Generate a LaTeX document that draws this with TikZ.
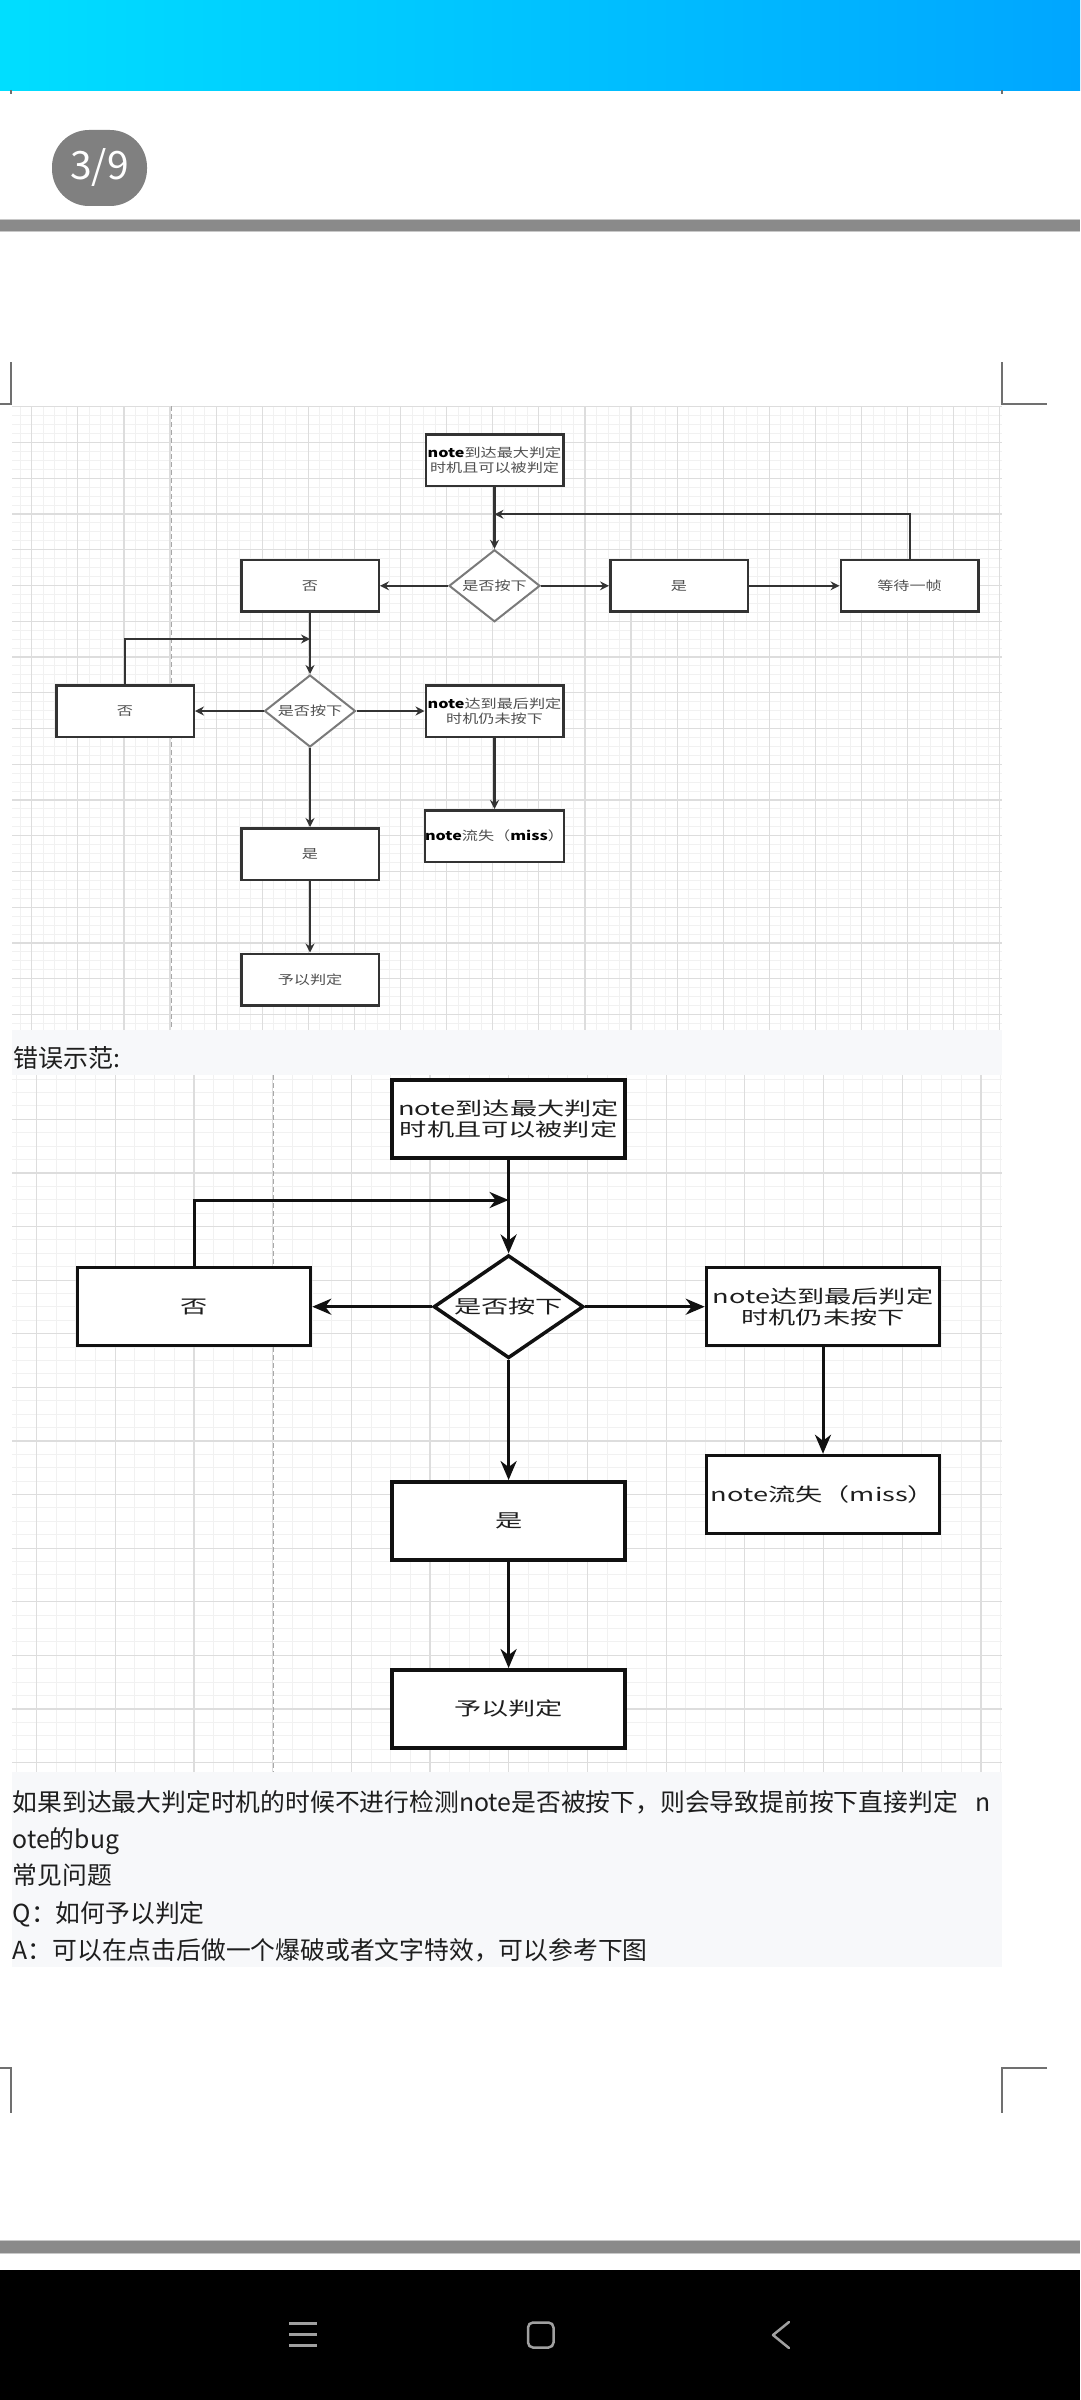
\documentclass[tikz,border=0pt]{standalone}
\usepackage{fontspec}
\setmainfont{Noto Sans CJK SC}
\newfontfamily\dfa[FakeStretch=1.29]{Noto Sans CJK SC}
\newfontfamily\dfb[FakeStretch=1.47]{Noto Sans CJK SC}
\usetikzlibrary{shapes.geometric,arrows.meta}
\definecolor{barL}{RGB}{0,222,255}
\definecolor{barR}{RGB}{0,166,255}
\definecolor{cdark}{HTML}{333333}
\definecolor{diagray}{HTML}{7A7A7A}
\definecolor{txtgray}{HTML}{505050}
\definecolor{gmin}{HTML}{F1F1F1}
\definecolor{gmaj}{HTML}{DDDDDD}
\definecolor{dashc}{HTML}{A8A8A8}
\definecolor{bandc}{HTML}{F7F8FA}
\definecolor{txtdark}{HTML}{1E1E1E}
\definecolor{barg}{HTML}{8A8A8A}
\definecolor{barl}{HTML}{C8C8C8}
\definecolor{markc}{HTML}{707070}
\definecolor{navc}{HTML}{A0A0A0}
\definecolor{badge}{HTML}{808080}
\definecolor{lineB}{HTML}{111111}
\tikzset{
  gminline/.style={draw=gmin, line width=0.9pt},
  gmajline/.style={draw=gmaj, line width=1.2pt},
  dashline/.style={draw=dashc, line width=1.3pt, dash pattern=on 5pt off 3pt},
  boxA/.style={rectangle, draw=cdark, line width=2.5pt, fill=white, minimum width=137.5pt, minimum height=51.5pt, inner sep=0pt, align=center, text=txtgray, font=\dfa\fontsize{12.5pt}{15pt}\selectfont},
  diaA/.style={diamond, draw=diagray, line width=2pt, fill=white, minimum width=91pt, minimum height=72pt, inner sep=0pt, text=txtgray, font=\dfa\fontsize{12.5pt}{15pt}\selectfont},
  arrA/.style={draw=cdark, line width=2.5pt, -{Stealth[length=9pt,width=9pt,inset=3pt]}},
  fbA/.style={draw=cdark, line width=2pt, -{Stealth[length=9pt,width=9pt,inset=3pt]}},
  boxB/.style={rectangle, draw=lineB, line width=3.5pt, fill=white, minimum width=233pt, minimum height=78pt, inner sep=0pt, align=center, text=txtdark, font=\dfb\fontsize{18.5pt}{20.5pt}\selectfont},
  diaB/.style={diamond, draw=lineB, line width=3.5pt, fill=white, minimum width=150pt, minimum height=103pt, inner sep=0pt, text=txtdark, font=\dfb\fontsize{18.5pt}{20.5pt}\selectfont},
  arrB/.style={draw=lineB, line width=3pt, -{Stealth[length=19pt,width=16pt,inset=6pt]}},
  para/.style={anchor=base west, inner sep=0pt, text=txtdark, font=\fontsize{24.8pt}{30pt}\selectfont},
  markline/.style={draw=markc, line width=1.5pt},
  navline/.style={draw=navc, line width=3pt},
}
\newcommand{\nb}[1]{{\bfseries\color{black}#1}}
\begin{document}
\begin{tikzpicture}[x=1pt,y=-1pt]
% page
\fill[white] (0,0) rectangle (1080,2400);
\useasboundingbox (0,0) rectangle (1080,2400);
% top blue bar
\shade[left color=barL, right color=barR] (0,0) rectangle (1080,91);
% badge
\node[fill=badge, rounded corners=37pt, minimum width=95pt, minimum height=76pt, inner sep=0pt, text=white, font=\fontsize{39pt}{40pt}\selectfont] (pg) at (99.5,168) {3/9};
% gray bars
\fill[barg] (0,219.5) rectangle (1080,232);
\draw[barl, line width=1pt] (0,219.5) -- (1080,219.5);
\draw[barl, line width=1pt] (0,232) -- (1080,232);
\fill[barg] (0,2240) rectangle (1080,2253);
\draw[barl, line width=1pt] (0,2240) -- (1080,2240);
\draw[barl, line width=1pt] (0,2253) -- (1080,2253);
% page corner marks
\draw[markline] (11,90) -- (11,94);
\draw[markline] (1002,90) -- (1002,94);
\draw[markline] (11,362) -- (11,404) -- (0,404);
\draw[markline] (1002,362) -- (1002,404) -- (1047,404);
\draw[markline] (0,2068) -- (11,2068) -- (11,2113);
\draw[markline] (1047,2068) -- (1002,2068) -- (1002,2113);
% ===== diagram 1 grid =====
\begin{scope}
\clip (12,406) rectangle (1002,1030);
\foreach \i in {0,...,90} \draw[gminline] ({8.65+11.525*\i},406) -- ({8.65+11.525*\i},1030);
\foreach \i in {0,...,71} \draw[gminline] (12,{397.76+8.9375*\i}) -- (1002,{397.76+8.9375*\i});
\foreach \i in {-1,...,21} \draw[gmajline] ({31.7+46.1*\i},406) -- ({31.7+46.1*\i},1030);
\foreach \i in {0,...,17} \draw[gmajline] (12,{406.7+35.75*\i}) -- (1002,{406.7+35.75*\i});
\draw[dashline] (171.5,406) -- (171.5,1030);
\end{scope}
% text band 1
\fill[bandc] (12,1030) rectangle (1002,1075);
\node[para, font=\fontsize{25pt}{30pt}\selectfont] (t0) at (13,1067) {错误示范:};
% ===== diagram 2 grid =====
\begin{scope}
\clip (12,1075) rectangle (1002,1772);
\foreach \i in {0,...,55} \draw[gminline] ({-42.2+19.675*\i},1075) -- ({-42.2+19.675*\i},1772);
\foreach \i in {0,...,53} \draw[gminline] (12,{1065.7+13.4*\i}) -- (1002,{1065.7+13.4*\i});
\foreach \i in {-1,...,12} \draw[gmajline] ({36.5+78.7*\i},1075) -- ({36.5+78.7*\i},1772);
\foreach \i in {-1,...,12} \draw[gmajline] (12,{1119.3+53.6*\i}) -- (1002,{1119.3+53.6*\i});
\draw[dashline] (273.5,1075) -- (273.5,1772);
\end{scope}
% text band 2
\fill[bandc] (12,1772) rectangle (1002,1967);
\node[para] (t1) at (12.4,1811) {如果到达最大判定时机的时候不进行检测note是否被按下，则会导致提前按下直接判定\hspace{0.7em}n};
\node[para] (t2) at (12.4,1848.5) {ote的bug};
\node[para] (t3) at (12.4,1884.5) {常见问题};
\node[para] (t4) at (12.4,1922) {Q：如何予以判定};
\node[para] (t5) at (12.4,1959) {A：可以在点击后做一个爆破或者文字特效，可以参考下图};
% ===== diagram 1 nodes =====
\node[boxA] (a0) at (494.5,460) {\nb{note}到达最大判定\\时机且可以被判定};
\node[diaA] (ad1) at (494.5,585.8) {\makebox[0pt]{是否按下}};
\node[boxA] (ano1) at (310,585.8) {否};
\node[boxA] (ayes1) at (679,585.8) {是};
\node[boxA] (await) at (909.5,585.8) {等待一帧};
\node[diaA] (ad2) at (310,711) {\makebox[0pt]{是否按下}};
\node[boxA] (ano2) at (125,711) {否};
\node[boxA] (alast) at (494.5,711) {\nb{note}达到最后判定\\时机仍未按下};
\node[boxA] (amiss) at (494.5,836) {\nb{note}流失（\nb{miss}）};
\node[boxA] (ayes2) at (310,854) {是};
\node[boxA] (ajudge) at (310,979.5) {予以判定};
\coordinate (aj1) at (494.5,514.3);
\coordinate (aj2) at (310,639);
\draw[arrA] (a0) -- (ad1);
\draw[arrA] (ad1) -- (ano1);
\draw[arrA] (ad1) -- (ayes1);
\draw[arrA] (ayes1) -- (await);
\draw[fbA] (await.north) |- (aj1);
\draw[arrA] (ano1) -- (ad2);
\draw[arrA] (ad2) -- (ano2);
\draw[arrA] (ad2) -- (alast);
\draw[fbA] (ano2.north) |- (aj2);
\draw[arrA] (alast) -- (amiss);
\draw[arrA] (ad2) -- (ayes2);
\draw[arrA] (ayes2) -- (ajudge);
% ===== diagram 2 nodes =====
\node[boxB] (b0) at (508.6,1118.8) {note到达最大判定\\时机且可以被判定};
\node[diaB] (bd) at (508.6,1306.7) {\makebox[0pt]{是否按下}};
\node[boxB] (bno) at (194,1306.7) {否};
\node[boxB] (blast) at (823,1306.7) {note达到最后判定\\时机仍未按下};
\node[boxB] (bmiss) at (823,1494.5) {note流失（miss）};
\node[boxB] (byes) at (508.6,1520.8) {是};
\node[boxB] (bjudge) at (508.6,1708.8) {予以判定};
\coordinate (bj) at (508.6,1200);
\draw[arrB] (b0) -- (bd);
\draw[arrB] (bd) -- (bno);
\draw[arrB] (bd) -- (blast);
\draw[arrB] (bno.north) |- (bj);
\draw[arrB] (blast) -- (bmiss);
\draw[arrB] (bd) -- (byes);
\draw[arrB] (byes) -- (bjudge);
% ===== nav bar =====
\fill[black] (0,2270) rectangle (1080,2400);
\draw[navline] (289,2323.5) -- (317,2323.5);
\draw[navline] (289,2334.5) -- (317,2334.5);
\draw[navline] (289,2345.5) -- (317,2345.5);
\draw[navc, line width=2.5pt, rounded corners=5pt] (528,2322.5) rectangle (553.5,2347.5);
\draw[navc, line width=2.5pt, line cap=round, line join=round] (789,2322) -- (773,2335) -- (789,2348);
\end{tikzpicture}
\end{document}
